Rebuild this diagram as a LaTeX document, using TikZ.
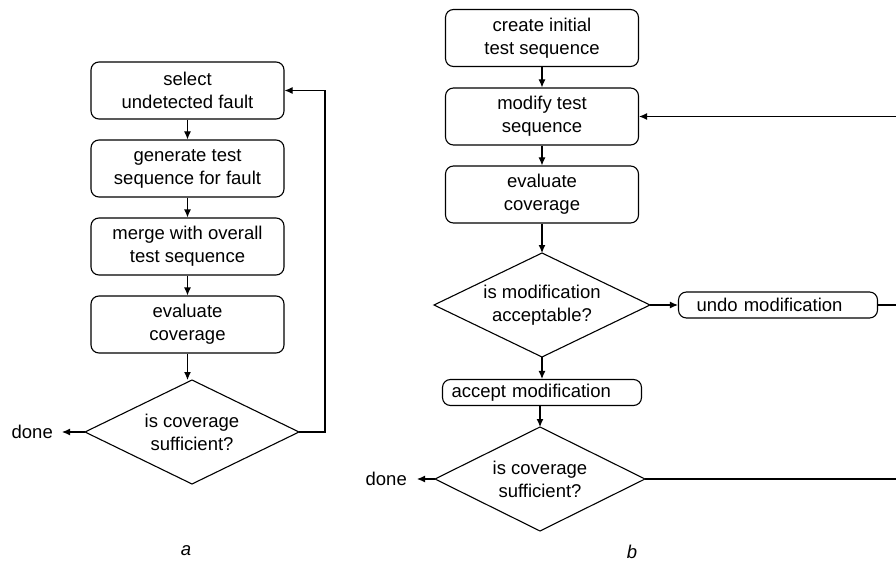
\documentclass[tikz,border=0pt]{standalone}
\usepackage{fontspec}
\setmainfont{Liberation Sans}
\usetikzlibrary{arrows.meta}
\tikzset{
  every picture/.style={x=1pt,y=-1pt},
  stepbox/.style={draw,line width=1.1pt,rounded corners=8pt,minimum width=193pt,
    minimum height=57pt,align=center,inner sep=2pt,
    font=\fontsize{18.5}{23}\selectfont},
  slimbox/.style={draw,line width=1.1pt,rounded corners=8pt,minimum height=26pt,
    align=left,inner ysep=0pt,font=\fontsize{18.5}{23}\selectfont},
  plain/.style={inner sep=0pt,align=center,font=\fontsize{18.5}{23}\selectfont},
  flow/.style={line width=1.1pt,-{Latex[length=8pt,width=7pt]}},
  wire/.style={line width=1.1pt},
}
% decision diamond: #1 name, #2 centre, #3 half width, #4 half height, #5 text
\newcommand{\decision}[5]{%
  \node[plain] (#1) at #2 {#5};
  \path #2 ++(-#3,0) coordinate (#1w) #2 ++(#3,0) coordinate (#1e)
        #2 ++(0,-#4) coordinate (#1n) #2 ++(0,#4) coordinate (#1s);
  \draw[wire,line join=miter] (#1w) -- (#1n) -- (#1e) -- (#1s) -- cycle;
}
\begin{document}
\begin{tikzpicture}
\useasboundingbox (0,0) rectangle (896,564);
\clip (0,0) rectangle (896,564);

% ---- flowchart a: fault-oriented test generation ----
\node[stepbox] (a1) at (187.5,90.5) {select\\undetected fault};
\node[stepbox] (a2) at (187.5,168.5) {generate test\\sequence for fault};
\node[stepbox] (a3) at (187.5,246.5) {merge with overall\\test sequence};
\node[stepbox] (a4) at (187.5,324.5) {evaluate\\coverage};
\decision{ad}{(192,432)}{107}{52}{is coverage\\sufficient?}
\node[plain,anchor=east] (adone) at (53,432) {done};
\coordinate (adoneend) at (62,432);
\node[plain] (alab) at (186,551) {\itshape a};

\draw[flow] (a1) -- (a2);
\draw[flow] (a2) -- (a3);
\draw[flow] (a3) -- (a4);
\draw[flow] (a4.south) -- (adn -| a4.south);
\draw[flow] (adw) -- (adoneend);
\coordinate (aturn) at (325,432);
\draw[flow] (ade) -- (aturn) |- (a1.east);

% ---- flowchart b: modification-based test generation ----
\node[stepbox] (b1) at (542,38) {create initial\\test sequence};
\node[stepbox] (b2) at (542,116.5) {modify test\\sequence};
\node[stepbox] (b3) at (542,194.5) {evaluate\\coverage};
\decision{bq}{(542,305)}{108}{52}{is modification\\acceptable?}
\node[slimbox,minimum width=199pt,text width=163pt,inner xsep=18pt] (undo) at (778,305) {undo modification};
\node[slimbox,minimum width=199pt,text width=181pt,inner xsep=9pt] (acc) at (542,392.5) {accept modification};
\decision{bc}{(540,479)}{105}{52}{is coverage\\sufficient?}
\node[plain,anchor=east] (bdone) at (407,479) {done};
\coordinate (bdoneend) at (417,479);
\node[plain] (blab) at (632,552) {\itshape b};

\draw[flow] (b1) -- (b2);
\draw[flow] (b2) -- (b3);
\draw[flow] (b3.south) -- (bqn);
\draw[flow] (bqe) -- (undo.west);
\draw[flow] (bqs) -- (acc.north -| bqs);
\draw[flow] (acc.south -| bcn) -- (bcn);
\draw[flow] (bcw) -- (bdoneend);
\coordinate (bturn) at (910,305);
\draw[flow] (undo.east) -- (bturn) |- (b2.east);
\draw[wire] (bce) -- (910,479) -- (bturn);
\end{tikzpicture}
\end{document}
